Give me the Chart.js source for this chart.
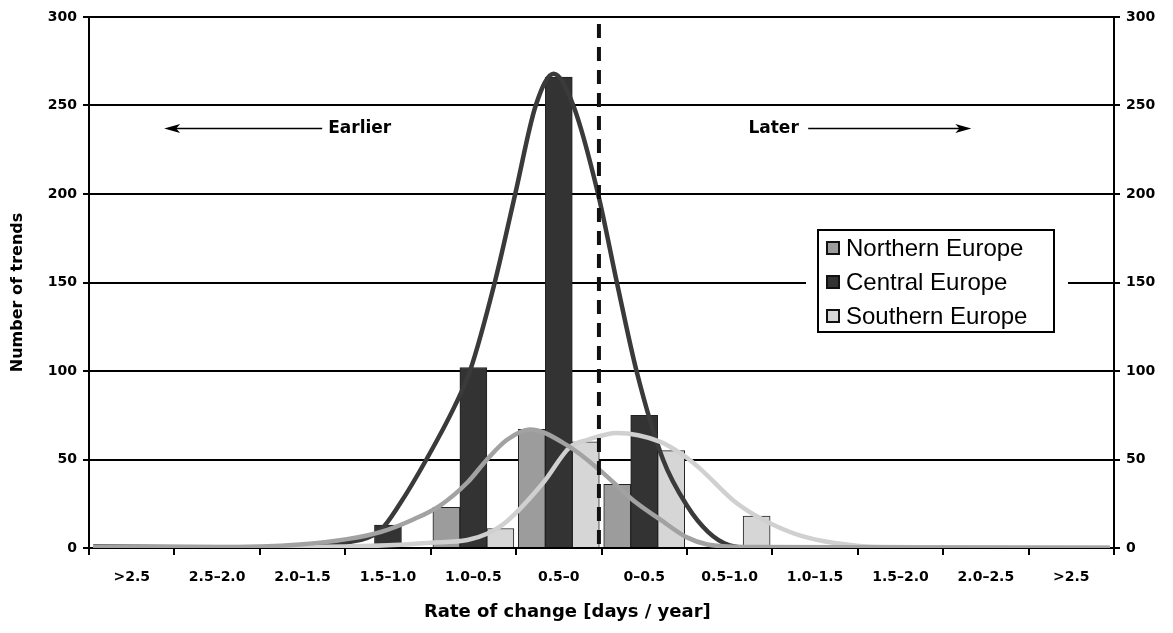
<!DOCTYPE html>
<html>
<head>
<meta charset="utf-8">
<script src="https://cdn.jsdelivr.net/npm/chart.js@4/dist/chart.umd.min.js"></script>
<style>
  html, body { margin: 0; padding: 0; background: #fff; }
  canvas { display: block; }
</style>
</head>
<body>
<canvas id="chart" width="1173" height="633"></canvas>
<script>
// categories (days / year)
const categories = ['>2.5', '2.5–2.0', '2.0–1.5', '1.5–1.0', '1.0–0.5', '0.5–0',
                    '0–0.5', '0.5–1.0', '1.0–1.5', '1.5–2.0', '2.0–2.5', '>2.5'];

// bar counts per region
const northern = [0, 0, 0, 0, 23, 67, 36, 0, 0, 0, 0, 0];
const central  = [1, 0, 0, 13, 102, 266, 75, 1, 0, 0, 0, 0];
const southern = [0, 0, 0, 0, 11, 60, 55, 18, 1, 0, 0, 0];

// fitted curves, x in category index units
const northernCurveX = [-0.45, 1.0, 1.97, 2.52, 2.91, 3.29, 3.61, 3.93, 4.16, 4.39, 4.66, 5.10, 5.48, 5.87, 6.19, 6.50, 6.74, 7.2, 11.45];
const northernCurveY = [0.5, 0.5, 2, 5, 9, 16, 24, 37, 50, 61, 67, 58, 44, 27, 16, 6, 2, 0.5, 0];

const centralCurveX = [-0.45, 0.5, 1.5, 2.2, 2.52, 2.91, 3.14, 3.45, 3.78, 3.96, 4.25, 4.49, 4.73, 4.94, 5.17, 5.46, 5.68, 5.91, 6.22, 6.5, 6.75, 7.0, 7.3, 11.45];
const centralCurveY = [1, 0.5, 0.3, 1, 3, 10, 25, 50, 80, 100, 150, 200, 250, 268, 250, 200, 150, 100, 50, 24, 9, 1.5, 0, 0];

const southernCurveX = [-0.45, 2.0, 3.0, 3.49, 3.93, 4.16, 4.39, 4.82, 5.13, 5.33, 5.68, 6.19, 6.44, 6.65, 7.04, 7.28, 7.56, 7.83, 8.21, 8.80, 10.0, 11.45];
const southernCurveY = [0.5, 0.5, 1.5, 3, 4.5, 8, 15, 37, 57, 61, 65, 60, 53, 45, 27, 19, 12, 7, 3, 0.5, 0.3, 0];

const yTicks = [0, 50, 100, 150, 200, 250, 300];

const colors = { northern: '#9c9c9c', central: '#333333', southern: '#d6d6d6' };
const curveColors = { northern: '#a2a2a2', central: '#3a3a3a', southern: '#d0d0d0' };

const BAR_W = 27;          // px per bar
const BAR_SHIFT = 0.316;   // side-by-side offset, in category units

const boldFont = (size) => ({ family: 'DejaVu Sans', size: size, weight: 'bold' });

function toPoints(xs, ys) {
    return xs.map((x, i) => ({ x: x, y: ys[i] }));
}

function curve(label, xs, ys, color) {
    return {
        type: 'line',
        label: label,
        xAxisID: 'xl',
        data: toPoints(xs, ys),
        borderColor: color,
        borderWidth: 4.5,
        pointRadius: 0,
        cubicInterpolationMode: 'monotone',
        order: 0
    };
}

function bars(label, values, shift, color) {
    return {
        type: 'bar',
        label: label,
        xAxisID: 'xl',
        data: values.map((v, i) => ({ x: i + shift, y: v })),
        backgroundColor: color,
        borderColor: '#222',
        borderWidth: 1,
        grouped: false,
        barThickness: BAR_W,
        order: 1
    };
}

function arrow(ctx, x1, x2, y) {
    // line from x1 to x2, head at x2
    const dir = x2 > x1 ? 1 : -1;
    ctx.beginPath();
    ctx.moveTo(x1, y);
    ctx.lineTo(x2 - dir * 10, y);
    ctx.stroke();
    ctx.beginPath();
    ctx.moveTo(x2, y);
    ctx.lineTo(x2 - dir * 16, y - 4.5);
    ctx.lineTo(x2 - dir * 12, y);
    ctx.lineTo(x2 - dir * 16, y + 4.5);
    ctx.closePath();
    ctx.fill();
}

const extras = {
    id: 'extras',
    afterDatasetsDraw(chart) {
        const ctx = chart.ctx;
        const xl = chart.scales.xl;
        const y = chart.scales.y;
        const area = chart.chartArea;

        // dashed divider between earlier / later
        ctx.save();
        ctx.strokeStyle = '#111';
        ctx.lineWidth = 4;
        ctx.setLineDash([14, 9]);
        ctx.beginPath();
        const dx = xl.getPixelForValue(5.47);
        ctx.moveTo(dx, y.getPixelForValue(296));
        ctx.lineTo(dx, area.bottom);
        ctx.stroke();
        ctx.restore();

        // legend box
        const boxL = area.right - 296, boxR = area.right - 60;
        const boxT = area.top + 213, boxB = area.top + 315;
        ctx.save();
        ctx.fillStyle = '#fff';
        ctx.fillRect(boxL - 12, boxT - 6, (boxR - boxL) + 26, (boxB - boxT) + 12);
        ctx.strokeStyle = '#000';
        ctx.lineWidth = 2;
        ctx.strokeRect(boxL, boxT, boxR - boxL, boxB - boxT);
        const items = chart.data.datasets.filter(d => d.type === 'bar');
        ctx.font = '24px "Liberation Sans", Arial, sans-serif';
        ctx.textBaseline = 'middle';
        items.forEach((d, i) => {
            const cy = boxT + 18 + i * 34;
            ctx.fillStyle = d.backgroundColor;
            ctx.fillRect(boxL + 9, cy - 6, 12, 12);
            ctx.strokeStyle = '#111';
            ctx.lineWidth = 2;
            ctx.strokeRect(boxL + 9, cy - 6, 12, 12);
            ctx.fillStyle = '#000';
            ctx.fillText(d.label, boxL + 28, cy + 1);
        });
        ctx.restore();
    },
    afterDraw(chart) {
        const ctx = chart.ctx;
        const xl = chart.scales.xl;
        const y = chart.scales.y;
        const area = chart.chartArea;
        ctx.save();
        ctx.fillStyle = '#000';
        ctx.strokeStyle = '#000';
        ctx.lineWidth = 1.5;
        ctx.font = 'bold 17px "DejaVu Sans"';
        ctx.textBaseline = 'middle';
        const ay = y.getPixelForValue(237);
        ctx.textAlign = 'left';
        ctx.fillText('Earlier', xl.getPixelForValue(2.3), ay);
        arrow(ctx, xl.getPixelForValue(2.23), xl.getPixelForValue(0.38), ay);
        ctx.fillText('Later', xl.getPixelForValue(7.22), ay);
        arrow(ctx, xl.getPixelForValue(7.92), xl.getPixelForValue(9.83), ay);

        // axis titles
        ctx.textAlign = 'center';
        ctx.font = 'bold 18px "DejaVu Sans"';
        ctx.fillText('Rate of change [days / year]', xl.getPixelForValue(5.1), 612);
        ctx.font = 'bold 16px "DejaVu Sans"';
        ctx.translate(18, (area.top + area.bottom) / 2 + 10);
        ctx.rotate(-Math.PI / 2);
        ctx.fillText('Number of trends', 0, 0);
        ctx.restore();
    }
};

const ctx = document.getElementById('chart').getContext('2d');
new Chart(ctx, {
    type: 'bar',
    data: {
        labels: categories,
        datasets: [
            curve('Northern fit', northernCurveX, northernCurveY, curveColors.northern),
            curve('Southern fit', southernCurveX, southernCurveY, curveColors.southern),
            curve('Central fit', centralCurveX, centralCurveY, curveColors.central),
            bars('Northern Europe', northern, -BAR_SHIFT, colors.northern),
            bars('Central Europe', central, 0, colors.central),
            bars('Southern Europe', southern, BAR_SHIFT, colors.southern)
        ]
    },
    options: {
        responsive: false,
        devicePixelRatio: 1,
        animation: false,
        layout: { padding: { top: 17, left: 0, right: 0, bottom: 0 } },
        plugins: {
            legend: { display: false },
            tooltip: { enabled: false }
        },
        scales: {
            x: {
                type: 'category',
                labels: categories,
                offset: true,
                grid: { offset: true, drawOnChartArea: false, drawTicks: true, tickLength: 7, color: '#000', lineWidth: 2 },
                border: { color: '#000', width: 2 },
                ticks: { font: boldFont(14), color: '#000', padding: 14, maxRotation: 0, autoSkip: false },
                afterFit: s => { s.height = 85; }
            },
            xl: {
                type: 'linear',
                min: -0.5,
                max: 11.5,
                offset: false,
                display: false
            },
            y: {
                position: 'left',
                min: 0,
                max: 300,
                afterBuildTicks: s => { s.ticks = yTicks.map(v => ({ value: v })); },
                grid: { color: '#000', lineWidth: 2, tickLength: 6 },
                border: { color: '#000', width: 2 },
                ticks: { font: boldFont(14), color: '#000', padding: 6 },
                afterFit: s => { s.width = 89; }
            },
            y2: {
                position: 'right',
                min: 0,
                max: 300,
                afterBuildTicks: s => { s.ticks = yTicks.map(v => ({ value: v })); },
                grid: { drawOnChartArea: false, color: '#000', lineWidth: 2, tickLength: 6 },
                border: { color: '#000', width: 2 },
                ticks: { font: boldFont(14), color: '#000', padding: 6 },
                afterFit: s => { s.width = 59; }
            }
        }
    },
    plugins: [extras]
});
</script>
</body>
</html>
